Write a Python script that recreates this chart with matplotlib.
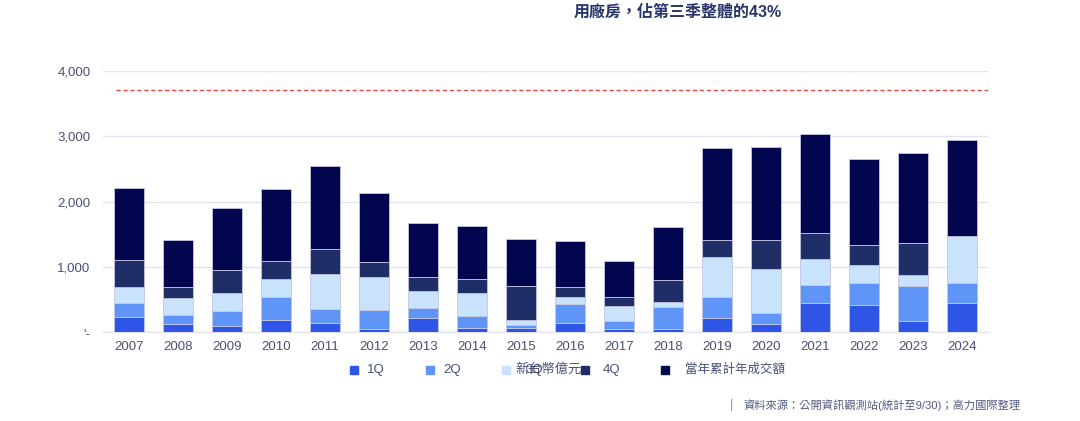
import matplotlib
matplotlib.use("Agg")
import matplotlib.pyplot as plt
import numpy as np
from matplotlib.patches import Rectangle

plt.rcParams['font.family'] = ['Liberation Sans', 'Noto Sans CJK TC', 'DejaVu Sans']

years = ['2007', '2008', '2009', '2010', '2011', '2012', '2013', '2014', '2015',
         '2016', '2017', '2018', '2019', '2020', '2021', '2022', '2023', '2024']
# cumulative tops (億元)
cum_1q = [239, 127, 101, 193, 142, 51, 224, 71, 60, 147, 55, 51, 219, 127, 453, 413, 168, 449]
cum_2q = [453, 265, 331, 545, 352, 342, 367, 254, 112, 429, 173, 388, 536, 301, 729, 750, 714, 755]
cum_3q = [689, 521, 606, 816, 893, 851, 632, 606, 184, 536, 403, 469, 1158, 974, 1118, 1035, 877, 1470]
cum_4q = [1107, 698, 954, 1097, 1271, 1072, 842, 816, 709, 698, 541, 806, 1413, 1413, 1516, 1332, 1372, 1470]
cum_total = [2210, 1409, 1908, 2190, 2547, 2138, 1679, 1628, 1424, 1398, 1087, 1613, 2818, 2833, 3032, 2654, 2750, 2945]
ref_line = 3710

yticks = [0, 1000, 2000, 3000, 4000]
ytick_labels = ["'-", '1,000', '2,000', '3,000', '4,000']

series_names = ['1Q', '2Q', '3Q', '4Q', '當年累計年成交額']
colors = ['#2f55e6', '#5f95f6', '#c8e3fb', '#1f2e66', '#02064f']

title = '用廠房，佔第三季整體的43%'
unit_label = '新台幣億元'
source = '資料來源：公開資訊觀測站(統計至9/30)；高力國際整理'

cums = [np.array(c, float) for c in (cum_1q, cum_2q, cum_3q, cum_4q, cum_total)]
segs = [cums[0]] + [cums[i] - cums[i - 1] for i in range(1, 5)]
bottoms = [np.zeros(len(years))] + [cums[i - 1] for i in range(1, 5)]

fig = plt.figure(figsize=(10.8, 4.21), dpi=100)
ax = fig.add_axes([103 / 1080, (421 - 332.3) / 421, (988 - 103) / 1080, (332.3 - 71) / 421])

x = np.arange(len(years))
tc = '#4a5076'
for s, b, c in zip(segs, bottoms, colors):
    ax.bar(x, s, bottom=b, width=0.63, color=c, edgecolor='#c3c6e2', linewidth=0.6, zorder=3)

ax.plot([-0.27, 17.53], [ref_line, ref_line], color='#e8473f', lw=1.0, ls=(0, (3, 2)), zorder=4)

ax.set_xlim(-0.53, 17.53)
ax.set_ylim(0, 4000)
ax.set_yticks(yticks)
ax.set_yticklabels(ytick_labels)
ax.set_xticks(x)
ax.set_xticklabels(years)
ax.tick_params(axis='both', length=0, labelsize=9.5, colors=tc)
ax.tick_params(axis='y', pad=9)
ax.tick_params(axis='x', pad=6)
ax.yaxis.grid(True, color='#e4e4ee', lw=1.0, zorder=0)
for sp in ['top', 'right', 'left']:
    ax.spines[sp].set_visible(False)
ax.spines['bottom'].set_color('#e4e4ee')
ax.spines['bottom'].set_linewidth(1.0)

fig.text(678 / 1080, 1 - 12 / 421, title, ha='center', va='center', fontsize=11.5,
         color='#27356a', fontweight='bold')

# legend
leg_sq_x = [354, 430, 506, 585, 665]
leg_txt_x = [367, 443, 515, 603, 685]
leg_labels = ['1Q', '2Q', '3Q', '4Q', '當年累計年成交額']
ly = 1 - 370 / 421
for sx, tx, lab, c in zip(leg_sq_x, leg_txt_x, leg_labels, colors):
    fig.patches.append(Rectangle((sx / 1080 - 4 / 1080, ly - 4 / 421), 8 / 1080, 8 / 421,
                                 transform=fig.transFigure, color=c, figure=fig))
    if lab == '3Q':
        fig.text(525 / 1080, ly, lab, ha='left', va='center', fontsize=9.5, color=tc)
        fig.text(tx / 1080, ly, unit_label, ha='left', va='center', fontsize=9.5, color=tc)
    elif lab == '當年累計年成交額':
        fig.text(tx / 1080, ly, lab, ha='left', va='center', fontsize=9, color=tc)
    else:
        fig.text(tx / 1080, ly, lab, ha='left', va='center', fontsize=9.5, color=tc)

fig.text(730 / 1080, 1 - 405 / 421, '|', ha='left', va='center', fontsize=9, color='#8a8fb0')
fig.text(743 / 1080, 1 - 405 / 421, source, ha='left', va='center', fontsize=8.1, color='#555b80')

fig.savefig('out.png', dpi=100)
